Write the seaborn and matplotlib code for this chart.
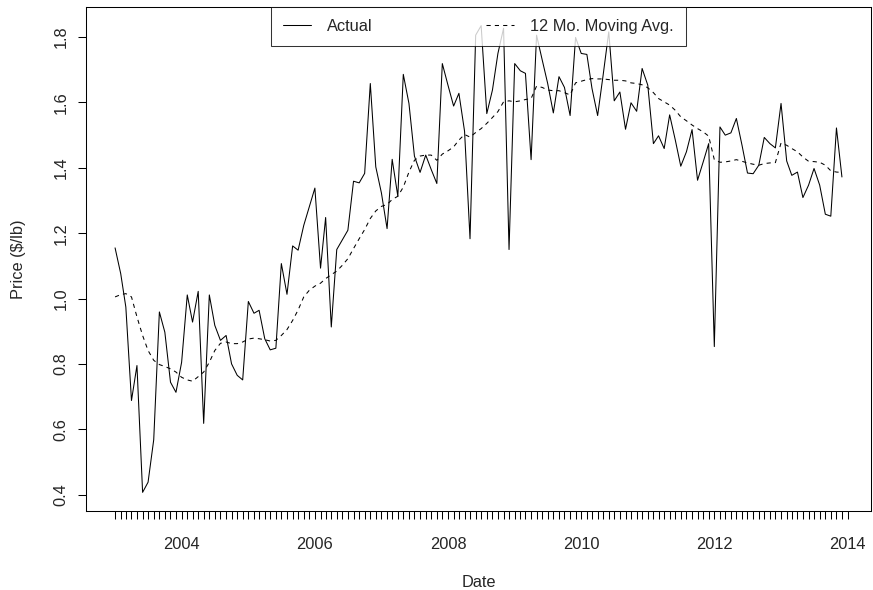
import numpy as np
import pandas as pd
import seaborn as sns
import matplotlib.pyplot as plt
import matplotlib.dates as mdates

# monthly series, Jan 2003 .. Dec 2013
start_month = '2003-01-01'

actual = [
    1.155, 1.076, 0.974, 0.688, 0.795, 0.407, 0.438, 0.568, 0.959, 0.897, 0.744, 0.713,
    0.805, 1.011, 0.928, 1.022, 0.618, 1.011, 0.918, 0.872, 0.887, 0.800, 0.765, 0.751,
    0.991, 0.955, 0.964, 0.877, 0.843, 0.848, 1.107, 1.013, 1.161, 1.148, 1.224, 1.280,
    1.338, 1.093, 1.248, 0.913, 1.150, 1.180, 1.209, 1.359, 1.354, 1.383, 1.658, 1.403,
    1.323, 1.214, 1.426, 1.313, 1.686, 1.597, 1.436, 1.386, 1.439, 1.395, 1.352, 1.719,
    1.653, 1.589, 1.628, 1.512, 1.183, 1.806, 1.835, 1.566, 1.638, 1.750, 1.827, 1.150,
    1.719, 1.697, 1.689, 1.425, 1.806, 1.730, 1.658, 1.568, 1.679, 1.646, 1.560, 1.799,
    1.750, 1.747, 1.643, 1.560, 1.683, 1.816, 1.605, 1.632, 1.518, 1.599, 1.573, 1.704,
    1.653, 1.474, 1.498, 1.459, 1.562, 1.485, 1.405, 1.449, 1.517, 1.362, 1.418, 1.474,
    0.853, 1.525, 1.500, 1.507, 1.551, 1.469, 1.384, 1.382, 1.408, 1.493, 1.474, 1.461,
    1.597, 1.421, 1.377, 1.387, 1.309, 1.347, 1.398, 1.347, 1.258, 1.252, 1.522, 1.372,
]

moving_avg = [
    1.005, 1.012, 1.015, 1.005, 0.944, 0.887, 0.841, 0.811, 0.798, 0.792, 0.785, 0.775,
    0.759, 0.751, 0.747, 0.761, 0.775, 0.805, 0.841, 0.863, 0.867, 0.862, 0.862, 0.867,
    0.876, 0.879, 0.877, 0.874, 0.870, 0.872, 0.887, 0.905, 0.933, 0.965, 1.005, 1.025,
    1.038, 1.047, 1.061, 1.073, 1.084, 1.102, 1.122, 1.153, 1.183, 1.211, 1.245, 1.268,
    1.282, 1.288, 1.303, 1.313, 1.341, 1.387, 1.423, 1.436, 1.439, 1.439, 1.423, 1.442,
    1.452, 1.464, 1.485, 1.502, 1.494, 1.508, 1.520, 1.536, 1.554, 1.572, 1.602, 1.605,
    1.602, 1.605, 1.609, 1.612, 1.650, 1.646, 1.638, 1.636, 1.636, 1.630, 1.623, 1.660,
    1.665, 1.670, 1.673, 1.672, 1.672, 1.670, 1.668, 1.668, 1.666, 1.660, 1.658, 1.654,
    1.645, 1.630, 1.612, 1.602, 1.592, 1.576, 1.556, 1.544, 1.531, 1.520, 1.510, 1.497,
    1.425, 1.417, 1.418, 1.421, 1.425, 1.420, 1.415, 1.411, 1.408, 1.413, 1.415, 1.416,
    1.476, 1.469, 1.459, 1.449, 1.433, 1.420, 1.419, 1.417, 1.408, 1.391, 1.387, 1.386,
]

series_names = ['Actual', '12 Mo. Moving Avg.']
y_ticks = [0.4, 0.6, 0.8, 1.0, 1.2, 1.4, 1.6, 1.8]
year_labels = ['2004', '2006', '2008', '2010', '2012', '2014']

FS = 11.8


#%% Data frame

months = pd.date_range(start_month, periods=len(actual), freq='MS')
df = pd.DataFrame({'date': months, series_names[0]: actual, series_names[1]: moving_avg})
df = df.melt(id_vars='date', var_name='series', value_name='price')


#%% Plot

sns.set_style('white')
plt.rcParams['font.family'] = ['Liberation Sans', 'DejaVu Sans']
plt.rcParams['font.size'] = FS

fig, ax = plt.subplots(figsize=(8.73, 5.9), dpi=100)
fig.subplots_adjust(left=86/873, right=871/873, bottom=1 - 511/590, top=1 - 7/590)

sns.lineplot(data=df, x='date', y='price', hue='series', style='series',
             palette=['black', 'black'],
             dashes={series_names[0]: '', series_names[1]: (4, 4)},
             linewidth=0.75, ax=ax)

# R-style 4% padding on both axes
x0, x1 = mdates.date2num(months[0]), mdates.date2num(months[-1])
ax.set_xlim(x0 - 0.04 * (x1 - x0), x1 + 0.04 * (x1 - x0))
lo, hi = min(actual), max(actual)
ax.set_ylim(lo - 0.04 * (hi - lo), hi + 0.04 * (hi - lo))

# monthly ticks, labels on January of even years
tick_months = pd.date_range(start_month, '2014-01-01', freq='MS')
tick_labels = [str(d.year) if (d.month == 1 and str(d.year) in year_labels) else '' for d in tick_months]
ax.set_xticks(mdates.date2num(tick_months))
ax.set_xticklabels(tick_labels)
ax.set_yticks(y_ticks)
ax.set_yticklabels([f'{v:.1f}' for v in y_ticks])

ax.tick_params(axis='x', bottom=True, direction='out', length=6, width=0.75, pad=12.5,
               color='black', labelsize=FS)
ax.tick_params(axis='y', left=True, direction='out', length=6, width=0.75, pad=6.5,
               color='black', labelsize=FS, labelrotation=90)
for lab in ax.get_yticklabels():
    lab.set_va('center')

for sp in ax.spines.values():
    sp.set_color('black')
    sp.set_linewidth(0.75)

ax.set_xlabel('Date', fontsize=FS, labelpad=17)
ax.set_ylabel('Price ($/lb)', fontsize=FS, labelpad=20)

handles, labels = ax.get_legend_handles_labels()
keep = [(h, l) for h, l in zip(handles, labels) if l in series_names]
leg = ax.legend([h for h, _ in keep], [l for _, l in keep], ncol=2, loc='upper center',
                bbox_to_anchor=(0.5, 1.0), borderaxespad=0, frameon=True, fancybox=False,
                edgecolor='black', fontsize=FS, handlelength=1.7, handletextpad=0.98,
                columnspacing=6.9, borderpad=0.74)
leg.get_frame().set_linewidth(0.75)

fig.savefig('out.png', dpi=100)
